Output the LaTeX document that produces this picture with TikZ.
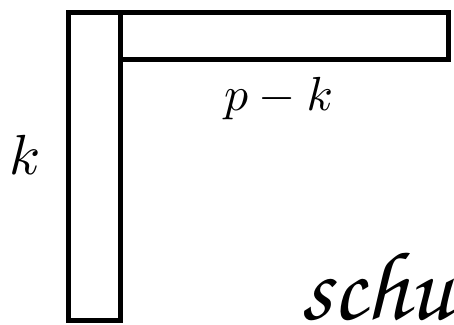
\documentclass[tikz,border=0pt]{standalone}
\begin{document}
\begin{tikzpicture}[x=0.23pt,y=-0.23pt,
  blockline/.style={draw=black,line width=1.15pt},
  lbl/.style={inner sep=0pt,anchor=base}]
\useasboundingbox (0,0) rectangle (454,325);
\draw[blockline] (69,12.5) rectangle (120.5,320);
\draw[blockline] (120.5,12.5) rectangle (449,59);
\node[lbl,scale=1.1] (pk) at (278.5,110) {$p-k$};
\node[lbl,scale=1.3] (k) at (25,174) {$k$};
\node[lbl,anchor=base west] (schur) at (300,319) {\fontsize{22.5}{26}\usefont{OT1}{pzc}{m}{it}schur};
\end{tikzpicture}
\end{document}
